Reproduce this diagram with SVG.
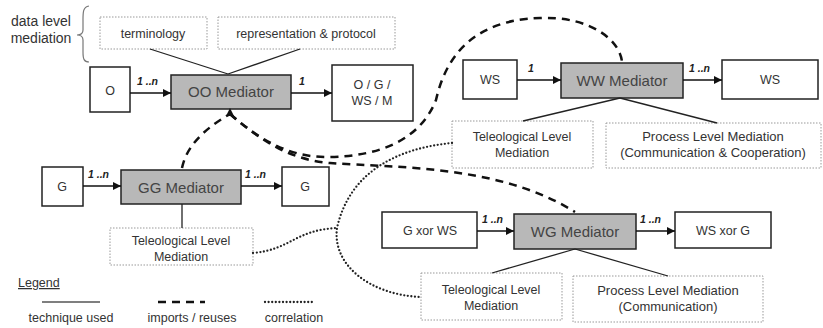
<svg xmlns="http://www.w3.org/2000/svg" width="823" height="328" viewBox="0 0 823 328">
<defs>
<marker id="arr" viewBox="0 0 10 10" refX="10" refY="5" markerWidth="8" markerHeight="8" markerUnits="userSpaceOnUse" orient="auto"><path d="M0,0 L10,5 L0,10 z" fill="#111"/></marker>
<style>
text{font-family:"Liberation Sans",Arial,sans-serif;fill:#333;text-anchor:middle}
.t{font-size:12.5px}
.w{font-size:13px}
.m{font-size:15px;fill:#444}
.n{font-size:10.5px;font-style:italic;font-weight:bold;fill:#222;text-anchor:start}
.box{fill:#fff;stroke:#222;stroke-width:1.5}
.med{fill:#b8b8b8;stroke:#222;stroke-width:1.5}
.dot{fill:#fff;stroke:#999;stroke-width:1;stroke-dasharray:1.5 1.5}
.sol{stroke:#222;stroke-width:1.3;fill:none}
.arrow{stroke:#111;stroke-width:1.6;fill:none;marker-end:url(#arr)}
.dash{stroke:#111;stroke-width:2.5;fill:none;stroke-dasharray:8 6}
.dotl{stroke:#222;stroke-width:2.3;fill:none;stroke-dasharray:0 3.6;stroke-linecap:round}
</style>
</defs>
<g id="data-level-label">
<text x="41" y="26" style="font-size:14px">data level</text>
<text x="41" y="43" style="font-size:14px">mediation</text>
<path d="M89,6 C83,7 83,12 83,20 L83,30 C83,33 81,35 77,35 C81,35 83,37 83,40 L83,52 C83,59 84,62 89,62" fill="none" stroke="#777" stroke-width="1.2"/>
</g>
<g id="terminology"><rect class="dot" x="100" y="17" width="107" height="32"/><text class="t" x="153" y="38">terminology</text></g>
<g id="representation"><rect class="dot" x="218" y="17" width="177" height="32"/><text class="t" x="306" y="38">representation &amp; protocol</text></g>
<g id="O"><rect class="box" x="90" y="67" width="40" height="45"/><text class="t" x="110" y="95">O</text></g>
<g id="OO-Mediator"><rect class="med" x="171" y="75" width="120" height="34"/><text class="m" x="231" y="97">OO Mediator</text></g>
<g id="OGWSM"><rect class="box" x="332" y="65" width="81" height="56"/><text class="t" x="372" y="89">O / G /</text><text class="t" x="372" y="105">WS / M</text></g>
<g id="WS-in"><rect class="box" x="463" y="60" width="54" height="39"/><text class="t" x="490" y="84">WS</text></g>
<g id="WW-Mediator"><rect class="med" x="561" y="63" width="122" height="35"/><text class="m" x="622" y="86">WW Mediator</text></g>
<g id="WS-out"><rect class="box" x="722" y="60" width="96" height="39"/><text class="t" x="770" y="84">WS</text></g>
<g id="WW-Teleo"><rect class="dot" x="452" y="121" width="141" height="47"/><text class="t" x="522" y="141">Teleological Level</text><text class="t" x="522" y="157">Mediation</text></g>
<g id="WW-Process"><rect class="dot" x="606" y="123" width="215" height="45"/><text class="w" x="713" y="141">Process Level Mediation</text><text class="w" x="713" y="157">(Communication &amp; Cooperation)</text></g>
<g id="G-in"><rect class="box" x="42" y="167" width="41" height="39"/><text class="t" x="62" y="191">G</text></g>
<g id="GG-Mediator"><rect class="med" x="121" y="170" width="120" height="34"/><text class="m" x="181" y="193">GG Mediator</text></g>
<g id="G-out"><rect class="box" x="282" y="167" width="47" height="39"/><text class="t" x="305" y="191">G</text></g>
<g id="GG-Teleo"><rect class="dot" x="110" y="228" width="143" height="37"/><text class="t" x="181" y="245">Teleological Level</text><text class="t" x="181" y="261">Mediation</text></g>
<g id="GxorWS"><rect class="box" x="382" y="212" width="95" height="36"/><text class="t" x="430" y="235">G xor WS</text></g>
<g id="WG-Mediator"><rect class="med" x="514" y="214" width="122" height="35"/><text class="m" x="575" y="237">WG Mediator</text></g>
<g id="WSxorG"><rect class="box" x="675" y="212" width="96" height="36"/><text class="t" x="723" y="235">WS xor G</text></g>
<g id="WG-Teleo"><rect class="dot" x="421" y="273" width="141" height="47"/><text class="t" x="491" y="294">Teleological Level</text><text class="t" x="491" y="310">Mediation</text></g>
<g id="WG-Process"><rect class="dot" x="573" y="276" width="190" height="46"/><text class="w" x="668" y="295">Process Level Mediation</text><text class="w" x="668" y="311">(Communication)</text></g>
<g id="connectors">
<line class="sol" x1="150" y1="49" x2="228" y2="74"/>
<line class="sol" x1="300" y1="49" x2="228" y2="74"/>
<line class="sol" x1="182" y1="204" x2="182" y2="228"/>
<line class="sol" x1="620" y1="98" x2="523" y2="121"/>
<line class="sol" x1="620" y1="98" x2="717" y2="123"/>
<line class="sol" x1="575" y1="249" x2="492" y2="273"/>
<line class="sol" x1="575" y1="249" x2="668" y2="276"/>
<line class="arrow" x1="130" y1="93" x2="171" y2="93"/>
<line class="arrow" x1="291" y1="93" x2="332" y2="93"/>
<line class="arrow" x1="517" y1="80" x2="561" y2="80"/>
<line class="arrow" x1="683" y1="80" x2="722" y2="80"/>
<line class="arrow" x1="83" y1="186" x2="121" y2="186"/>
<line class="arrow" x1="241" y1="186" x2="282" y2="186"/>
<line class="arrow" x1="477" y1="231" x2="514" y2="231"/>
<line class="arrow" x1="636" y1="231" x2="675" y2="231"/>
<text class="n" x="137" y="85">1 ..n</text>
<text class="n" x="299" y="85">1</text>
<text class="n" x="528" y="72">1</text>
<text class="n" x="689" y="72">1 ..n</text>
<text class="n" x="88" y="178">1 ..n</text>
<text class="n" x="245" y="178">1 ..n</text>
<text class="n" x="482" y="223">1 ..n</text>
<text class="n" x="640" y="223">1 ..n</text>
<path class="dash" d="M182,168 Q188,138 230,114"/>
<path class="dash" d="M230,114 C260,140 290,158 330,157 C380,156 420,140 436,100 C445,60 470,20 540,18 C590,16 620,40 622,62"/>
<path class="dash" d="M230,114 C260,140 290,160 330,163 C400,168 500,165 575,212"/>
<path d="M226,116 L230,108 L234,116 z" fill="#111"/>
<path class="dotl" d="M452,143 C400,148 350,170 337,228 C332,265 370,295 421,297"/>
<path class="dotl" d="M253,253 C290,250 295,230 337,228"/>
</g>
<g id="legend">
<text x="18" y="287" style="font-size:12.5px;text-anchor:start;text-decoration:underline">Legend</text>
<line x1="42" y1="302" x2="100" y2="302" stroke="#555" stroke-width="1.5"/>
<line x1="158" y1="302" x2="205" y2="302" stroke="#111" stroke-width="2.5" stroke-dasharray="8 6"/>
<line x1="265" y1="302" x2="312" y2="302" class="dotl"/>
<text class="t" x="71" y="322">technique used</text>
<text class="t" x="192" y="322">imports / reuses</text>
<text class="t" x="294" y="322">correlation</text>
</g>
</svg>
